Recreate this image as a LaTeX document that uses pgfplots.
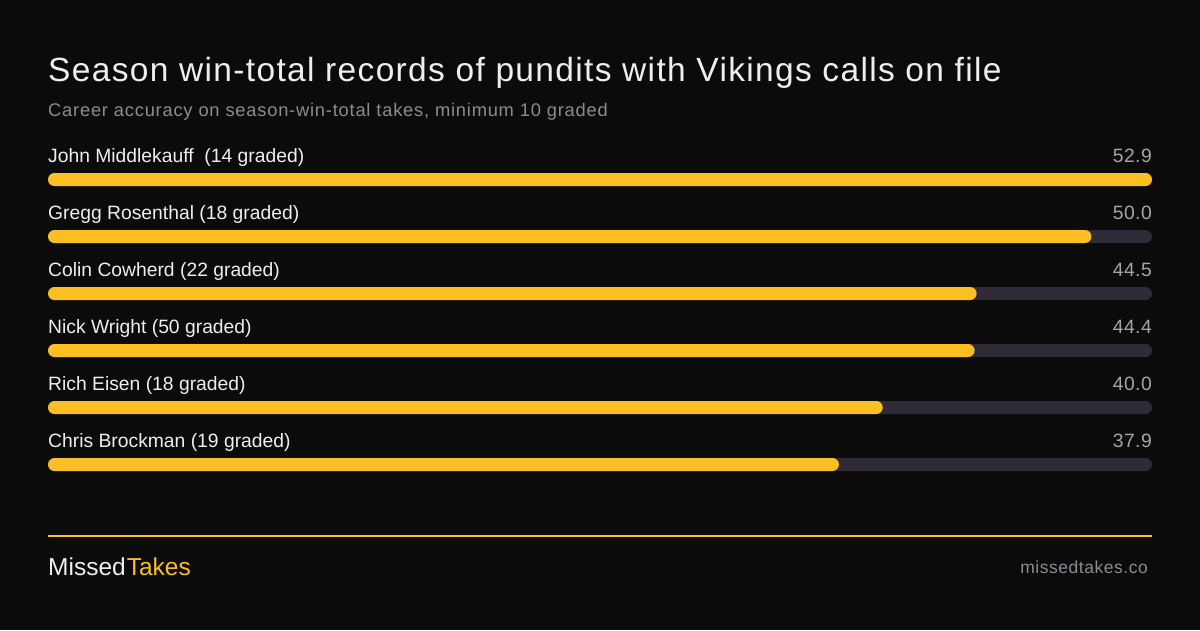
\documentclass[border=0pt]{standalone}
\usepackage{pgfplots}
\pgfplotsset{compat=1.18}
\usepackage{fontspec}
\setmainfont{Liberation Sans}
\definecolor{bg}{HTML}{0B0B0B}
\definecolor{amber}{HTML}{FBBF24}
\definecolor{track}{HTML}{2E2B36}
\definecolor{subgray}{HTML}{8B8B94}
\definecolor{valgray}{HTML}{A6A6AA}
\definecolor{namewhite}{HTML}{EEEEEE}
\pgfplotstableread{
row value
0 52.9
1 50.0
2 44.5
3 44.4
4 40.0
5 37.9
}\datatable
\pgfplotstableread{
row value
0 52.9
1 52.9
2 52.9
3 52.9
4 52.9
5 52.9
}\tracktable
\newcommand\titlefont{\fontsize{33.5}{36}\selectfont\addfontfeature{LetterSpace=4.0}}
\newcommand\subfont{\fontsize{18.3}{20}\selectfont\addfontfeature{LetterSpace=4.3}}
\newcommand\namefont{\fontsize{19.3}{21}\selectfont}
\newcommand\valfont{\fontsize{19.3}{21}\selectfont\addfontfeature{LetterSpace=2.5}}
\begin{document}
\begin{tikzpicture}[x=1pt,y=1pt]
\fill[bg] (0,0) rectangle (1200,630);
% title & subtitle
\node[anchor=base west, inner sep=0pt, text=namewhite, font=\titlefont] at (48,548) {Season win-total records of pundits with Vikings calls on file};
\node[anchor=base west, inner sep=0pt, text=subgray, font=\subfont] at (48,513) {Career accuracy on season-win-total takes, minimum 10 graded};
\begin{axis}[
  at={(48pt,137pt)}, anchor=south west,
  scale only axis, width=1104pt, height=342pt,
  xmin=0, xmax=52.9, ymin=-0.5, ymax=5.5, y dir=reverse,
  hide axis, clip=false,
  xbar, bar width=13pt, bar shift=0pt,
]
\addplot[fill=track, draw=none, rounded corners=6.5pt, bar shift=0pt] table[x=value, y=row] {\tracktable};
\addplot[fill=amber, draw=none, rounded corners=6.5pt, bar shift=0pt] table[x=value, y=row] {\datatable};
\foreach \k/\n/\v in {0/{John Middlekauff\ \ (14 graded)}/52.9, 1/{Gregg Rosenthal (18 graded)}/50.0, 2/{Colin Cowherd (22 graded)}/44.5, 3/{Nick Wright (50 graded)}/44.4, 4/{Rich Eisen (18 graded)}/40.0, 5/{Chris Brockman (19 graded)}/37.9}{
  \edef\temp{\noexpand\node[anchor=base west, inner sep=0pt, text=namewhite, font=\noexpand\namefont, yshift=17.5pt] at (axis cs:0,\k) {\n};
  \noexpand\node[anchor=base east, inner sep=0pt, text=valgray, font=\noexpand\valfont, yshift=17.5pt] at (axis cs:52.9,\k) {\v};}
  \temp
}
\end{axis}
% footer
\draw[amber, line width=1.5pt] (48,94) -- (1152,94);
\node[anchor=base west, inner sep=0pt, font=\fontsize{24.5}{26}\selectfont] at (48,55) {\textcolor{namewhite}{Missed}\hspace{1pt}\textcolor{amber}{Takes}};
\node[anchor=base east, inner sep=0pt, text=subgray, font=\fontsize{17.5}{19}\selectfont\addfontfeature{LetterSpace=3}] at (1148,57) {missedtakes.co};
\end{tikzpicture}
\end{document}
